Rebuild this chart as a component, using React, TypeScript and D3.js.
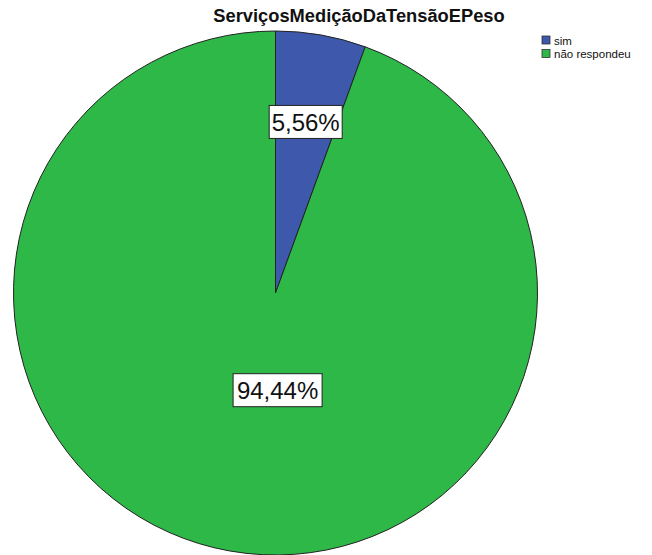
import React from "react";
import * as d3 from "d3";

const title = "ServiçosMediçãoDaTensãoEPeso";
const categories = ["sim", "não respondeu"];
const values = [5.56, 94.44];
const labels = ["5,56%", "94,44%"];
const colors = ["#3E58AC", "#2EB848"];

const W = 652;
const H = 555;
const cx = 275.5;
const cy = 293;
const R = 262;

export default function App() {
  const pie = d3.pie<number>().sort(null).value((d) => d)(values);
  const arc = d3.arc<d3.PieArcDatum<number>>().innerRadius(0).outerRadius(R);

  const labelPos = (i: number, a: d3.PieArcDatum<number>) => {
    if (i === 0) {
      const mid = (a.startAngle + a.endAngle) / 2;
      const d = R * 0.663;
      return [Math.sin(mid) * d, -Math.cos(mid) * d];
    }
    return [R * 0.008, R * 0.371];
  };

  return (
    <svg
      width={W}
      height={H}
      style={{ position: "absolute", left: 0, top: 0, background: "#fff" }}
      fontFamily="'Liberation Sans', Arial, sans-serif"
    >
      <text x={359} y={22} textAnchor="middle" fontWeight="bold" fontSize={18.3} fill="#111">
        {title}
      </text>
      <g transform={`translate(${cx},${cy})`}>
        {pie.map((a, i) => (
          <path key={i} d={arc(a) || ""} fill={colors[i]} stroke="#222" strokeWidth={1} />
        ))}
        {pie.map((a, i) => {
          const [x, y] = labelPos(i, a);
          const fs = 24;
          const wBox = labels[i].length === 5 ? 73 : 89;
          const hBox = 33;
          return (
            <g key={"l" + i} transform={`translate(${x},${y})`}>
              <rect x={-wBox / 2} y={-hBox / 2} width={wBox} height={hBox} fill="#fff" stroke="#222" strokeWidth={1} />
              <text x={0} y={fs * 0.36} textAnchor="middle" fontSize={fs} fill="#111">
                {labels[i]}
              </text>
            </g>
          );
        })}
      </g>
      <g transform="translate(542,36)">
        {categories.map((c, i) => (
          <g key={c} transform={`translate(0,${i * 13.5})`}>
            <rect x={0} y={0} width={8} height={8} fill={colors[i]} stroke="#333" strokeWidth={0.8} />
            <text x={12} y={8.5} fontSize={11.5} fill="#111">
              {c}
            </text>
          </g>
        ))}
      </g>
    </svg>
  );
}
